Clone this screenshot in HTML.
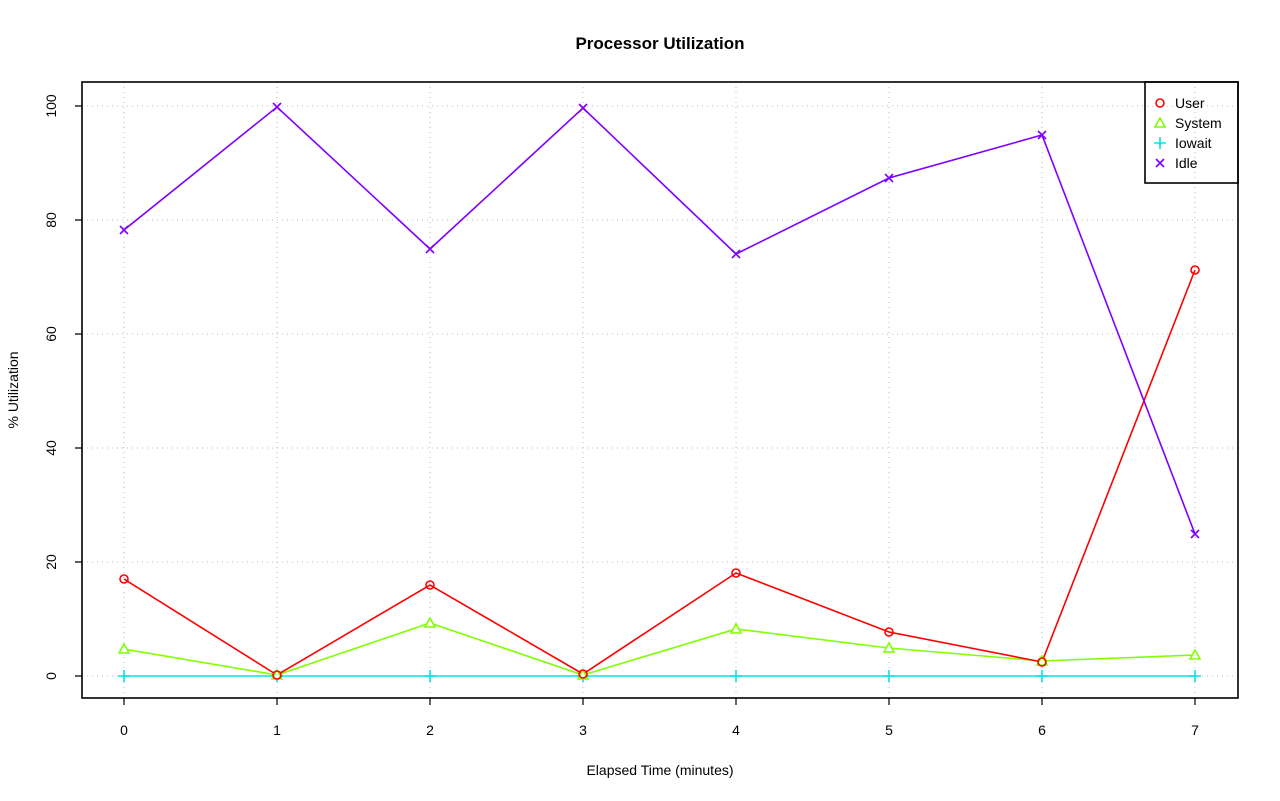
<!DOCTYPE html>
<html><head><style>body{margin:0;background:#fff}svg{display:block}text{font-family:"Liberation Sans",sans-serif}</style></head>
<body>
<svg width="1280" height="801" viewBox="0 0 1280 801" xmlns="http://www.w3.org/2000/svg">
<rect width="1280" height="801" fill="#fff"/>
<text x="660" y="49" text-anchor="middle" font-size="17" font-weight="bold">Processor Utilization</text>
<g stroke="#bbb" stroke-width="1" stroke-dasharray="1,4">
<line x1="124" y1="82" x2="124" y2="698"/><line x1="277" y1="82" x2="277" y2="698"/><line x1="430" y1="82" x2="430" y2="698"/><line x1="583" y1="82" x2="583" y2="698"/><line x1="736" y1="82" x2="736" y2="698"/><line x1="889" y1="82" x2="889" y2="698"/><line x1="1042" y1="82" x2="1042" y2="698"/><line x1="1195" y1="82" x2="1195" y2="698"/>
<line x1="82" y1="676" x2="1238" y2="676"/><line x1="82" y1="562" x2="1238" y2="562"/><line x1="82" y1="448" x2="1238" y2="448"/><line x1="82" y1="334" x2="1238" y2="334"/><line x1="82" y1="220" x2="1238" y2="220"/><line x1="82" y1="106" x2="1238" y2="106"/>
</g>
<g fill="none" stroke-width="1.6">
<polyline stroke="#00e5e5" points="124,676 277,676 430,676 583,676 736,676 889,676 1042,676 1195,676"/>
<polyline stroke="#80ff00" points="124,649 277,675 430,623 583,675 736,629 889,648 1042,661 1195,655"/>
<polyline stroke="#ff0000" points="124,579 277,675 430,585 583,674 736,573 889,632 1042,662 1195,270"/>
<polyline stroke="#8000ff" points="124,230 277,107 430,249 583,108 736,254 889,178 1042,135 1195,534"/>
</g>
<g stroke="#00e5e5" stroke-width="1.6">
<path d="M118,676h12M124,670v12M271,676h12M277,670v12M424,676h12M430,670v12M577,676h12M583,670v12M730,676h12M736,670v12M883,676h12M889,670v12M1036,676h12M1042,670v12M1189,676h12M1195,670v12"/>
</g>
<g fill="#fff" stroke="#80ff00" stroke-width="1.6">
<path d="M124,644l5,9h-10z"/><path d="M277,670l5,9h-10z"/><path d="M430,618l5,9h-10z"/><path d="M583,670l5,9h-10z"/><path d="M736,624l5,9h-10z"/><path d="M889,643l5,9h-10z"/><path d="M1042,656l5,9h-10z"/><path d="M1195,650l5,9h-10z"/>
</g>
<g fill="none" stroke="#ff0000" stroke-width="1.6">
<circle cx="124" cy="579" r="4"/><circle cx="277" cy="675" r="4"/><circle cx="430" cy="585" r="4"/><circle cx="583" cy="674" r="4"/><circle cx="736" cy="573" r="4"/><circle cx="889" cy="632" r="4"/><circle cx="1042" cy="662" r="4"/><circle cx="1195" cy="270" r="4"/>
</g>
<g stroke="#8000ff" stroke-width="1.6">
<path d="M120,226l8,8M128,226l-8,8M273,103l8,8M281,103l-8,8M426,245l8,8M434,245l-8,8M579,104l8,8M587,104l-8,8M732,250l8,8M740,250l-8,8M885,174l8,8M893,174l-8,8M1038,131l8,8M1046,131l-8,8M1191,530l8,8M1199,530l-8,8"/>
</g>
<rect x="82" y="82" width="1156" height="616" fill="none" stroke="#000" stroke-width="1.6"/>
<g stroke="#000" stroke-width="1.2">
<path d="M124,698v7M277,698v7M430,698v7M583,698v7M736,698v7M889,698v7M1042,698v7M1195,698v7"/>
<path d="M82,676h-7M82,562h-7M82,448h-7M82,334h-7M82,220h-7M82,106h-7"/>
</g>
<g font-size="14" text-anchor="middle">
<text x="124" y="735">0</text><text x="277" y="735">1</text><text x="430" y="735">2</text><text x="583" y="735">3</text><text x="736" y="735">4</text><text x="889" y="735">5</text><text x="1042" y="735">6</text><text x="1195" y="735">7</text>
<text transform="translate(56,676) rotate(-90)">0</text><text transform="translate(56,562) rotate(-90)">20</text><text transform="translate(56,448) rotate(-90)">40</text><text transform="translate(56,334) rotate(-90)">60</text><text transform="translate(56,220) rotate(-90)">80</text><text transform="translate(56,106) rotate(-90)">100</text>
<text x="660" y="775">Elapsed Time (minutes)</text>
<text transform="translate(18,390) rotate(-90)">% Utilization</text>
</g>
<rect x="1145" y="82" width="93" height="101" fill="none" stroke="#000" stroke-width="1.6"/>
<circle cx="1160" cy="103" r="4" fill="none" stroke="#ff0000" stroke-width="1.6"/>
<path d="M1160,118l5,9h-10z" fill="none" stroke="#80ff00" stroke-width="1.6"/>
<path d="M1154,143h12M1160,137v12" stroke="#00e5e5" stroke-width="1.6"/>
<path d="M1156,159l8,8M1164,159l-8,8" stroke="#8000ff" stroke-width="1.6"/>
<g font-size="14"><text x="1175" y="108">User</text><text x="1175" y="128">System</text><text x="1175" y="148">Iowait</text><text x="1175" y="168">Idle</text></g>
</svg>
</body></html>
